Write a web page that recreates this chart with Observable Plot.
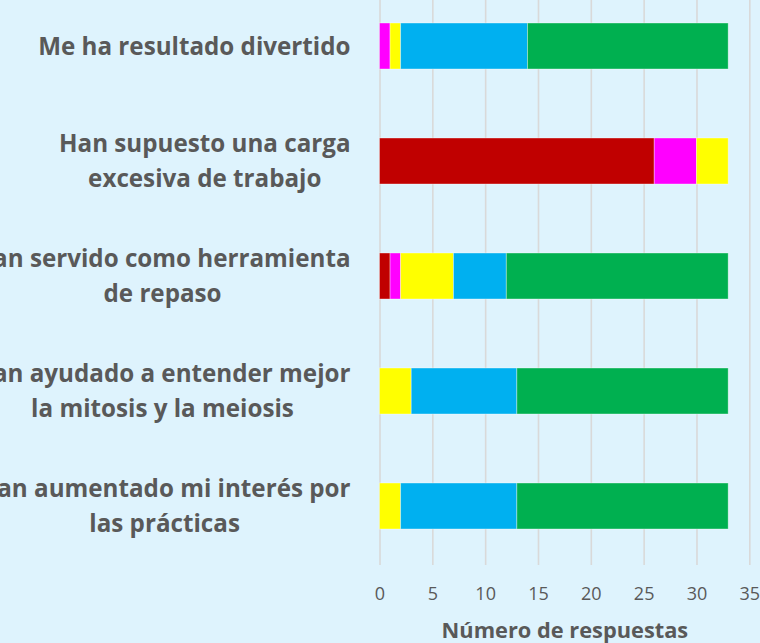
<!DOCTYPE html>
<html>
<head>
<meta charset="utf-8">
<script src="https://cdn.jsdelivr.net/npm/d3@7"></script>
<script src="https://cdn.jsdelivr.net/npm/@observablehq/plot@0.6"></script>
<style>
  html, body { margin: 0; padding: 0; background: #DEF3FD; }
  #chart { width: 760px; height: 643px; overflow: hidden; }
</style>
</head>
<body>
<div id="chart"></div>
<script>
const categories = [
  "Me ha resultado divertido",
  "Han supuesto una carga excesiva de trabajo",
  "Han servido como herramienta de repaso",
  "Han ayudado a entender mejor la mitosis y la meiosis",
  "Han aumentado mi interés por las prácticas"
];
const labelLines = [
  "Me ha resultado divertido",
  "Han supuesto una carga\nexcesiva de trabajo",
  "Han servido como herramienta\nde repaso",
  "Han ayudado a entender mejor\nla mitosis y la meiosis",
  "Han aumentado mi interés por\nlas prácticas"
];
const series = ["Muy en desacuerdo", "En desacuerdo", "Indiferente", "De acuerdo", "Muy de acuerdo"];
const colors = ["#C00000", "#FF00FF", "#FFFF00", "#00B0F0", "#00B050"];
const muyDesacuerdo = [0, 26, 1, 0, 0];
const desacuerdo    = [1, 4, 1, 0, 0];
const indiferente   = [1, 3, 5, 3, 2];
const deAcuerdo     = [12, 0, 5, 10, 11];
const muyDeAcuerdo  = [19, 0, 21, 20, 20];
const xTicks = [0, 5, 10, 15, 20, 25, 30, 35];
const xTitle = "Número de respuestas";

const seriesValues = [muyDesacuerdo, desacuerdo, indiferente, deAcuerdo, muyDeAcuerdo];
const data = categories.flatMap((c, i) =>
  series.map((s, j) => ({cat: c, serie: s, value: seriesValues[j][i]}))
).filter(d => d.value > 0);

const textColor = "#595959";
const font = "Open Sans";

const plot = Plot.plot({
  width: 760,
  height: 643,
  marginLeft: 379.5,
  marginRight: 10.7,
  marginTop: 0,
  marginBottom: 78,
  style: {background: "transparent", fontFamily: font, overflow: "visible"},
  x: {domain: [0, 35], label: null},
  y: {domain: categories, range: [-12.5, 565], paddingInner: 0.6, paddingOuter: 0.3, label: null, axis: null},
  color: {domain: series, range: colors},
  marks: [
    Plot.gridX(xTicks, {stroke: "#D9D9D9", strokeOpacity: 1, strokeWidth: 1.6}),
    Plot.barX(data, Plot.stackX({
      x: "value", y: "cat", fill: "serie",
      stroke: "white", strokeOpacity: 0.45, strokeWidth: 0.8
    })),
    Plot.axisX(xTicks, {tickSize: 0, tickPadding: 22, fontSize: 18, fill: textColor, fontFamily: font, label: null}),
    Plot.text(categories, {
      y: d => d,
      text: (d, i) => labelLines[i],
      frameAnchor: "left",
      dx: -29.5,
      dy: -3,
      textAnchor: "end",
      lineAnchor: "middle",
      lineHeight: 1.45,
      fontSize: 24.2,
      fontWeight: "bold",
      fill: textColor
    }),
    Plot.text([xTitle], {
      text: d => d,
      frameAnchor: "bottom",
      dy: 66,
      lineAnchor: "middle",
      fontSize: 21.8,
      fontWeight: "bold",
      fill: textColor
    })
  ]
});

document.getElementById("chart").appendChild(plot);

// Center the lines of each multi-line category label, keeping the right edge aligned
const groups = plot.querySelectorAll('g[aria-label="text"]');
if (groups.length) {
  groups[0].querySelectorAll("text").forEach(t => {
    const w = t.getBBox().width;
    const tr = t.getAttribute("transform") || "";
    t.setAttribute("text-anchor", "middle");
    t.setAttribute("transform", tr + ` translate(${-w / 2},0)`);
  });
}
</script>
</body>
</html>
